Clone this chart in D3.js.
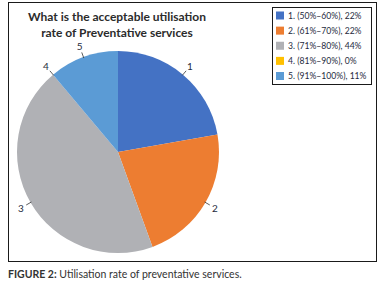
<!DOCTYPE html>
<html>
<head>
<meta charset="utf-8">
<script src="https://cdn.jsdelivr.net/npm/d3@7"></script>
<style>
  html, body { margin: 0; padding: 0; background: #fff; }
  svg { display: block; }
</style>
</head>
<body>
<div id="chart"></div>
<script>
// slice data, clockwise from 12 o'clock
var labels = ["1", "2", "3", "4", "5"];
var ranges = ["(50%\u201360%)", "(61%\u201370%)", "(71%\u201380%)", "(81%\u201390%)", "(91%\u2013100%)"];
var shares = [22, 22, 44, 0, 11];
var colors = ["#4472c4", "#ed7d31", "#b0b1b5", "#ffc000", "#5b9bd5"];

var W = 381, H = 285;
var svg = d3.select("#chart").append("svg").attr("width", W).attr("height", H);
var font = "Lato, 'Open Sans', sans-serif";
var ink = "#262b3d";

// chart frame
svg.append("rect").attr("x", 8.5).attr("y", 2.5).attr("width", 368).attr("height", 259)
  .attr("fill", "none").attr("stroke", "#1a1a1a").attr("stroke-width", 1);

// title
var title = svg.append("text").attr("x", 117).attr("y", 21).attr("text-anchor", "middle")
  .attr("font-family", font).attr("font-weight", 700).attr("font-size", 12).attr("fill", "#2b2b2b");
title.append("tspan").attr("x", 117).text("What is the acceptable utilisation");
title.append("tspan").attr("x", 117).attr("dy", 15.5).text("rate of Preventative services");

// pie
var cx = 118, cy = 152, r = 101;
var rows = labels.map(function (l, i) { return { label: l, range: ranges[i], v: shares[i], c: colors[i] }; });
var pie = d3.pie().sort(null).value(function (d) { return d.v; });
var arc = d3.arc().innerRadius(0).outerRadius(r);
var arcs = pie(rows);
var g = svg.append("g").attr("transform", "translate(" + cx + "," + cy + ")");
g.selectAll("path").data(arcs).enter().append("path")
  .attr("d", arc).attr("fill", function (d) { return d.data.c; });

// data labels with short leaders
function pt(a, rad) { return [Math.sin(a) * rad, -Math.cos(a) * rad]; }
arcs.forEach(function (d) {
  var a = (d.startAngle + d.endAngle) / 2;
  var p0 = pt(a, r - 1), p1 = pt(a, r + 5), pl = pt(a, r + 11);
  g.append("line").attr("x1", p0[0]).attr("y1", p0[1]).attr("x2", p1[0]).attr("y2", p1[1])
    .attr("stroke", "#333").attr("stroke-width", 0.8);
  g.append("text").attr("x", pl[0]).attr("y", pl[1]).attr("dy", "0.35em")
    .attr("text-anchor", "middle").attr("font-family", font).attr("font-size", 10)
    .attr("fill", ink).text(d.data.label);
});

// legend
var lg = svg.append("g");
lg.append("rect").attr("x", 272.5).attr("y", 7.5).attr("width", 99).attr("height", 77)
  .attr("fill", "#fff").attr("stroke", "#1a1a1a").attr("stroke-width", 1);
var ly = d3.scalePoint().domain(labels).range([15.5, 76]);
var item = lg.selectAll("g.item").data(rows).enter().append("g").attr("class", "item")
  .attr("transform", function (d) { return "translate(276," + ly(d.label) + ")"; });
item.append("rect").attr("x", 0).attr("y", -4).attr("width", 8).attr("height", 8)
  .attr("fill", function (d) { return d.c; });
item.append("text").attr("x", 12).attr("dy", "0.35em")
  .attr("font-family", font).attr("font-size", 8.6).attr("fill", ink)
  .text(function (d) { return d.label + ". " + d.range + ", " + d.v + "%"; });

// caption
var cap = svg.append("text").attr("x", 8).attr("y", 278)
  .attr("font-family", font).attr("font-size", 10.5).attr("fill", "#333");
cap.append("tspan").attr("font-weight", 700).text("FIGURE 2:");
cap.append("tspan").text(" Utilisation rate of preventative services.");
</script>
</body>
</html>
